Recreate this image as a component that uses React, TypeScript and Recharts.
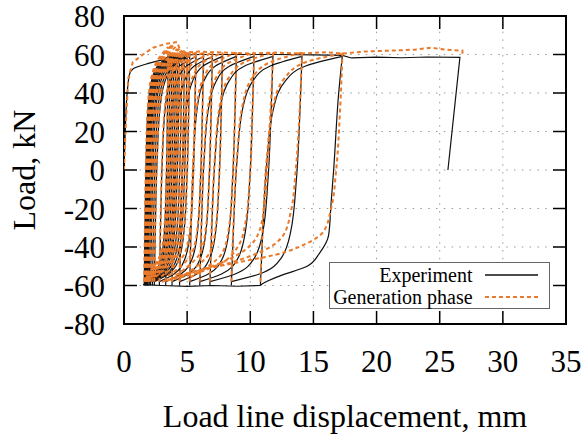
import { CartesianGrid, Label, Legend, Line, LineChart, ReferenceArea, XAxis, YAxis } from 'recharts'

type Pt = [number, number]

const FONT = '"Liberation Serif", "Times New Roman", serif'
const BLACK = '#111111'
const ORANGE = '#E97A2B'

const X_TICKS = [0, 5, 10, 15, 20, 25, 30, 35]
const Y_TICKS = [-80, -60, -40, -20, 0, 20, 40, 60, 80]

// first monotonic loading
const EXP_FIRST: Pt[] = [[0, 0], [0.1, 20], [0.25, 40], [0.45, 50], [0.7, 52.5], [2, 55.5], [3.4, 58], [3.8, 59.5]]
const GEN_FIRST: Pt[] = [[0, 0], [0.15, 25], [0.35, 48], [0.7, 56], [1.5, 60], [2.3, 63.5], [3.3, 65.5], [4.2, 66.5], [4.4, 63], [4.6, 61]]

// loading branches, experiment (from -60 up to the cycle maximum)
const EXP_LOAD: Pt[][] = [
  [[1.6, -60], [1.66, -30], [1.75, 5], [1.9, 32], [2.17, 46], [2.65, 54], [3.5, 59]],
  [[1.65, -60], [1.71, -30], [1.81, 5], [1.97, 32], [2.25, 46], [2.75, 54], [3.65, 59]],
  [[1.7, -60], [1.76, -30], [1.87, 5], [2.04, 32], [2.33, 46], [2.86, 54], [3.8, 59]],
  [[1.75, -60], [1.82, -30], [1.93, 5], [2.1, 32], [2.41, 46], [2.96, 54], [3.95, 59]],
  [[1.8, -60], [1.87, -30], [1.98, 5], [2.17, 32], [2.49, 46], [3.07, 54], [4.1, 59]],
  [[1.85, -60], [1.92, -30], [2.04, 5], [2.23, 32], [2.57, 46], [3.17, 54], [4.25, 59]],
  [[1.9, -60], [1.98, -30], [2.1, 5], [2.3, 32], [2.65, 46], [3.28, 54], [4.4, 59]],
  [[2.0, -60], [2.08, -30], [2.21, 5], [2.42, 32], [2.78, 46], [3.43, 54], [4.6, 59]],
  [[2.1, -60], [2.18, -30], [2.32, 5], [2.53, 32], [2.91, 46], [3.59, 54], [4.8, 59]],
  [[2.25, -60], [2.33, -30], [2.47, 5], [2.69, 32], [3.08, 46], [3.76, 54], [5.0, 59]],
  [[2.4, -60], [2.48, -30], [2.62, 5], [2.85, 32], [3.24, 46], [3.94, 54], [5.2, 59]],
  [[2.8, -60], [2.89, -30], [3.03, 5], [3.26, 32], [3.67, 46], [4.4, 54], [5.7, 59]],
  [[3.3, -60], [3.39, -30], [3.54, 5], [3.78, 32], [4.2, 46], [4.95, 54], [6.3, 59]],
  [[3.8, -60], [3.9, -30], [4.06, 5], [4.31, 32], [4.76, 46], [5.56, 54], [7.0, 59]],
  [[4.4, -60], [4.5, -30], [4.67, 5], [4.94, 32], [5.42, 46], [6.27, 54], [7.8, 59]],
  [[5.2, -60], [5.31, -30], [5.5, 5], [5.79, 32], [6.31, 46], [7.24, 54], [8.9, 59]],
  [[6.0, -60], [6.13, -30], [6.34, 5], [6.69, 32], [7.29, 46], [8.37, 54], [10.3, 59]],
  [[6.8, -60], [6.95, -30], [7.2, 5], [7.6, 32], [8.3, 46], [9.55, 54], [11.8, 59]],
  [[8.5, -60], [8.67, -30], [8.95, 5], [9.4, 32], [10.18, 46], [11.58, 54], [14.1, 59]],
  [[10.8, -60], [11.0, -30], [11.32, 5], [11.84, 32], [12.75, 46], [14.38, 54], [17.3, 59]],
]

// unloading branches, experiment (from the cycle maximum down to -60)
const EXP_UNLOAD: Pt[][] = [
  [[3.5, 60], [3.44, 30], [3.35, -5], [3.2, -32], [2.93, -46], [2.36, -54], [1.6, -58]],
  [[3.65, 60], [3.59, 30], [3.49, -5], [3.33, -32], [3.05, -46], [2.45, -54], [1.65, -58]],
  [[3.8, 60], [3.74, 30], [3.63, -5], [3.46, -32], [3.17, -46], [2.54, -54], [1.7, -58]],
  [[3.95, 60], [3.88, 30], [3.77, -5], [3.6, -32], [3.29, -46], [2.63, -54], [1.75, -58]],
  [[4.1, 60], [4.03, 30], [3.92, -5], [3.73, -32], [3.41, -46], [2.72, -54], [1.8, -58]],
  [[4.25, 60], [4.18, 30], [4.06, -5], [3.87, -32], [3.53, -46], [2.81, -54], [1.85, -58]],
  [[4.4, 60], [4.33, 30], [4.2, -5], [4.0, -32], [3.65, -46], [2.9, -54], [1.9, -58]],
  [[4.6, 60], [4.52, 30], [4.39, -5], [4.18, -32], [3.82, -46], [3.04, -54], [2.0, -58]],
  [[4.8, 60], [4.72, 30], [4.58, -5], [4.37, -32], [3.99, -46], [3.18, -54], [2.1, -58]],
  [[5.0, 60], [4.92, 30], [4.78, -5], [4.56, -32], [4.18, -46], [3.35, -54], [2.25, -58]],
  [[5.2, 60], [5.12, 30], [4.98, -5], [4.75, -32], [4.36, -46], [3.52, -54], [2.4, -58]],
  [[5.7, 60], [5.61, 30], [5.47, -5], [5.24, -32], [4.83, -46], [3.96, -54], [2.8, -58]],
  [[6.3, 60], [6.21, 30], [6.06, -5], [5.82, -32], [5.4, -46], [4.5, -54], [3.3, -58]],
  [[7.0, 60], [6.9, 30], [6.74, -5], [6.49, -32], [6.04, -46], [5.08, -54], [3.8, -58]],
  [[7.8, 60], [7.7, 30], [7.53, -5], [7.26, -32], [6.78, -46], [5.76, -54], [4.4, -58]],
  [[8.9, 60], [8.79, 30], [8.6, -5], [8.31, -32], [7.79, -46], [6.68, -54], [5.2, -58]],
  [[10.3, 60], [10.17, 30], [9.96, -5], [9.61, -32], [9.01, -46], [7.72, -54], [6.0, -58]],
  [[11.8, 60], [11.65, 30], [11.4, -5], [11.0, -32], [10.3, -46], [8.8, -54], [6.8, -58]],
  [[14.1, 60], [13.93, 30], [13.65, -5], [13.2, -32], [12.42, -46], [10.74, -54], [8.5, -58]],
  [[17.3, 60], [17.0, 40], [16.6, 0], [16.4, -17], [16.2, -34], [15.5, -43], [14.5, -50], [12.35, -55], [11.0, -59], [10.8, -60]],
]

// loading branches, generation phase
const GEN_LOAD: Pt[][] = [
  [[1.6, -58], [1.66, -28], [1.75, 7], [1.9, 34], [2.17, 48], [2.65, 57], [3.5, 64]],
  [[1.65, -58], [1.71, -28], [1.81, 7], [1.97, 34], [2.25, 48], [2.75, 57], [3.65, 64]],
  [[1.7, -58], [1.76, -28], [1.87, 7], [2.04, 34], [2.33, 48], [2.86, 57], [3.8, 65]],
  [[1.75, -58], [1.82, -28], [1.93, 7], [2.1, 34], [2.41, 48], [2.96, 57], [3.95, 65]],
  [[1.8, -58], [1.87, -28], [1.98, 7], [2.17, 34], [2.49, 48], [3.07, 57], [4.1, 64]],
  [[1.85, -58], [1.92, -28], [2.04, 7], [2.23, 34], [2.57, 48], [3.17, 56], [4.25, 63]],
  [[1.9, -58], [1.98, -28], [2.1, 7], [2.3, 34], [2.65, 48], [3.28, 56], [4.4, 63]],
  [[2.0, -58], [2.08, -28], [2.21, 7], [2.42, 34], [2.78, 48], [3.43, 56], [4.6, 62]],
  [[2.1, -58], [2.18, -28], [2.32, 7], [2.53, 34], [2.91, 48], [3.59, 56], [4.8, 62]],
  [[2.25, -58], [2.33, -28], [2.47, 7], [2.69, 34], [3.08, 48], [3.76, 56], [5.0, 61]],
  [[2.4, -58], [2.48, -28], [2.62, 7], [2.85, 34], [3.24, 48], [3.94, 56], [5.2, 61]],
  [[2.8, -58], [2.89, -28], [3.03, 7], [3.26, 34], [3.67, 48], [4.4, 56], [5.7, 61]],
  [[3.3, -58], [3.39, -28], [3.54, 7], [3.78, 34], [4.2, 48], [4.95, 56], [6.3, 61]],
  [[3.8, -58], [3.9, -28], [4.06, 7], [4.31, 34], [4.76, 48], [5.56, 56], [7.0, 61]],
  [[4.4, -58], [4.5, -28], [4.67, 7], [4.94, 34], [5.42, 48], [6.27, 56], [7.8, 61]],
  [[5.2, -58], [5.31, -28], [5.5, 7], [5.79, 34], [6.31, 48], [7.24, 56], [8.9, 61]],
  [[6.0, -58], [6.13, -28], [6.34, 7], [6.69, 34], [7.29, 48], [8.37, 56], [10.3, 61]],
  [[6.8, -58], [6.95, -28], [7.2, 7], [7.6, 34], [8.3, 48], [9.55, 56], [11.8, 61]],
  [[8.5, -58], [8.67, -28], [8.95, 7], [9.4, 34], [10.18, 48], [11.58, 56], [14.1, 61]],
  [[10.8, -58], [11.0, -28], [11.32, 7], [11.84, 34], [12.75, 48], [14.38, 56], [17.3, 60.5]],
]

// unloading branches, generation phase
const GEN_UNLOAD: Pt[][] = [
  [[3.5, 61], [3.44, 30], [3.35, -5], [3.2, -30], [2.93, -43], [2.36, -50], [1.6, -56]],
  [[3.65, 61], [3.59, 30], [3.49, -5], [3.33, -30], [3.05, -43], [2.45, -50], [1.65, -56]],
  [[3.8, 61], [3.74, 30], [3.63, -5], [3.46, -30], [3.17, -43], [2.54, -50], [1.7, -56]],
  [[3.95, 61], [3.88, 30], [3.77, -5], [3.6, -30], [3.29, -43], [2.63, -50], [1.75, -56]],
  [[4.1, 61], [4.03, 30], [3.92, -5], [3.73, -30], [3.41, -43], [2.72, -50], [1.8, -56]],
  [[4.25, 61], [4.18, 30], [4.06, -5], [3.87, -30], [3.53, -43], [2.81, -50], [1.85, -56]],
  [[4.4, 61], [4.33, 30], [4.2, -5], [4.0, -30], [3.65, -43], [2.9, -50], [1.9, -56]],
  [[4.6, 61], [4.52, 30], [4.39, -5], [4.18, -30], [3.82, -43], [3.04, -50], [2.0, -56]],
  [[4.8, 61], [4.72, 30], [4.58, -5], [4.37, -30], [3.99, -43], [3.18, -50], [2.1, -56]],
  [[5.0, 61], [4.92, 30], [4.78, -5], [4.56, -30], [4.18, -43], [3.35, -50], [2.25, -56]],
  [[5.2, 61], [5.12, 30], [4.98, -5], [4.75, -30], [4.36, -43], [3.52, -50], [2.4, -56]],
  [[5.7, 61], [5.61, 30], [5.47, -5], [5.24, -30], [4.83, -43], [3.96, -50], [2.8, -56]],
  [[6.3, 61], [6.21, 30], [6.06, -5], [5.82, -30], [5.4, -43], [4.5, -50], [3.3, -56]],
  [[7.0, 61], [6.9, 30], [6.74, -5], [6.49, -30], [6.04, -43], [5.08, -50], [3.8, -56]],
  [[7.8, 61], [7.7, 30], [7.53, -5], [7.26, -30], [6.78, -43], [5.76, -50], [4.4, -56]],
  [[8.9, 61], [8.79, 30], [8.6, -5], [8.31, -30], [7.79, -43], [6.68, -50], [5.2, -56]],
  [[10.3, 61], [10.17, 30], [9.96, -5], [9.6, -28], [9.0, -40], [7.5, -49], [5.0, -55], [3.0, -58]],
  [[11.8, 61], [11.6, 30], [11.35, 0], [11.0, -24], [10.4, -36], [9.0, -44], [7.0, -50], [4.5, -55], [3.0, -58]],
  [[14.1, 61], [13.9, 30], [13.6, 0], [13.2, -22], [12.6, -34], [11.0, -42], [8.5, -48], [5.5, -53], [3.5, -57]],
  [[17.3, 61], [17.1, 30], [16.8, 0], [16.4, -20], [15.8, -32], [14.5, -38], [12.0, -44], [9.0, -48], [6.0, -52], [4.0, -56]],
]

// plateaus at the load limits and the final opening
const EXP_TOP: Pt[] = [[3.8, 59.5], [6, 60], [9, 60], [12, 60], [15, 59.8], [17.3, 59.5], [18, 58.2], [20, 58.6], [22, 58.3], [24, 58.7], [26.6, 58.5], [25.65, 0]]
const EXP_BOTTOM: Pt[] = [[10.8, -60], [9, -60.4], [7, -60], [5, -60.5], [3, -60], [1.5, -59.5]]
const GEN_TOP: Pt[] = [[4.6, 61], [6, 61.5], [8, 61], [10, 60.5], [12, 61], [14, 60.5], [16, 61.2], [17.3, 60.5], [19, 61.5], [21, 62], [23, 62.5], [24.3, 63.5], [25.5, 62.5], [26.8, 62], [26.8, 59]]

const W = 587
const H = 437
const MARGIN = { top: 16, right: 21, bottom: 0, left: 0 }
const Y_AXIS_W = 124
const X_AXIS_H = 113
const PLOT_W = W - MARGIN.left - MARGIN.right - Y_AXIS_W
const PLOT_H = H - MARGIN.top - MARGIN.bottom - X_AXIS_H
const TICK_LEN = 13

const toRows = (pts: Pt[]) => pts.map(([x, y]) => ({ x, y }))

// ticks point inward on all four sides, like gnuplot
function XTick({ x, y, payload }: any) {
  return (
    <g>
      <line x1={x} y1={y} x2={x} y2={y - TICK_LEN} stroke="#000" strokeWidth={1.5} />
      <line x1={x} y1={y - PLOT_H} x2={x} y2={y - PLOT_H + TICK_LEN} stroke="#000" strokeWidth={1.5} />
      <text x={x} y={y + 48} textAnchor="middle" fontFamily={FONT} fontSize={31} fill="#000">
        {payload.value}
      </text>
    </g>
  )
}

function YTick({ x, y, payload }: any) {
  return (
    <g>
      <line x1={x} y1={y} x2={x + TICK_LEN} y2={y} stroke="#000" strokeWidth={1.5} />
      <line x1={x + PLOT_W} y1={y} x2={x + PLOT_W - TICK_LEN} y2={y} stroke="#000" strokeWidth={1.5} />
      <text x={x - 19} y={y + 11} textAnchor="end" fontFamily={FONT} fontSize={31} fill="#000">
        {payload.value}
      </text>
    </g>
  )
}

function LegendBox() {
  const row = (label: string, color: string, dash?: string) => (
    <div style={{ display: 'flex', alignItems: 'center', height: 22 }}>
      <span style={{ width: 146, textAlign: 'right', lineHeight: '22px' }}>{label}</span>
      <svg width={66} height={22} style={{ marginLeft: 12 }}>
        <line x1={0} y1={11} x2={53} y2={11} stroke={color} strokeWidth={dash ? 2 : 1.3} strokeDasharray={dash} />
      </svg>
    </div>
  )
  return (
    <div
      style={{
        width: 221,
        height: 47,
        boxSizing: 'border-box',
        border: '1px solid #666',
        background: '#fff',
        fontFamily: FONT,
        fontSize: 20,
        color: '#000',
        paddingTop: 1,
      }}
    >
      {row('Experiment', BLACK)}
      {row('Generation phase', ORANGE, '4 3')}
    </div>
  )
}

export default function App() {
  const branch = (pts: Pt[], key: string, color: string, dashed: boolean, curve: 'linear' | 'monotoneY') => (
    <Line
      key={key}
      data={toRows(pts)}
      dataKey="y"
      type={curve}
      stroke={color}
      strokeWidth={dashed ? 2 : 1.2}
      strokeDasharray={dashed ? '4 3' : undefined}
      dot={false}
      activeDot={false}
      legendType="none"
      isAnimationActive={false}
    />
  )

  return (
    <div style={{ position: 'absolute', left: 0, top: 0, background: '#fff' }}>
      <LineChart width={W} height={H} margin={MARGIN}>
        <CartesianGrid stroke="#999" strokeDasharray="1.5 6.3" />
        <XAxis
          dataKey="x"
          type="number"
          domain={[0, 35]}
          ticks={X_TICKS}
          interval={0}
          height={X_AXIS_H}
          tickSize={0}
          tickMargin={0}
          axisLine={false}
          tickLine={false}
          tick={XTick}
          allowDataOverflow
        >
          <Label
            content={(p: any) => (
              <text
                x={p.viewBox.x + p.viewBox.width / 2}
                y={p.viewBox.y + 103}
                textAnchor="middle"
                fontFamily={FONT}
                fontSize={32}
                fill="#000"
              >
                Load line displacement, mm
              </text>
            )}
          />
        </XAxis>
        <YAxis
          type="number"
          domain={[-80, 80]}
          ticks={Y_TICKS}
          interval={0}
          width={Y_AXIS_W}
          tickSize={0}
          tickMargin={0}
          axisLine={false}
          tickLine={false}
          tick={YTick}
          allowDataOverflow
        >
          <Label
            content={(p: any) => {
              const cx = p.viewBox.x + 35
              const cy = p.viewBox.y + p.viewBox.height / 2
              return (
                <text
                  x={cx}
                  y={cy}
                  transform={`rotate(-90, ${cx}, ${cy})`}
                  textAnchor="middle"
                  fontFamily={FONT}
                  fontSize={32}
                  fill="#000"
                >
                  Load, kN
                </text>
              )
            }}
          />
        </YAxis>
        {branch(EXP_FIRST, 'ef', BLACK, false, 'monotoneY')}
        {branch(EXP_TOP, 'et', BLACK, false, 'linear')}
        {branch(EXP_BOTTOM, 'eb', BLACK, false, 'linear')}
        {EXP_LOAD.map((b, i) => branch(b, `el${i}`, BLACK, false, 'monotoneY'))}
        {EXP_UNLOAD.map((b, i) => branch(b, `eu${i}`, BLACK, false, 'monotoneY'))}
        {branch(GEN_FIRST, 'gf', ORANGE, true, 'linear')}
        {branch(GEN_TOP, 'gt', ORANGE, true, 'linear')}
        {GEN_LOAD.map((b, i) => branch(b, `gl${i}`, ORANGE, true, 'monotoneY'))}
        {GEN_UNLOAD.map((b, i) => branch(b, `gu${i}`, ORANGE, true, 'monotoneY'))}
        <ReferenceArea x1={0} x2={35} y1={-80} y2={80} fill="none" stroke="#000" strokeWidth={2} />
        <Legend
          layout="vertical"
          verticalAlign="middle"
          align="center"
          wrapperStyle={{ left: 329, top: 262, width: 221, height: 47 }}
          content={() => <LegendBox />}
        />
      </LineChart>
    </div>
  )
}
